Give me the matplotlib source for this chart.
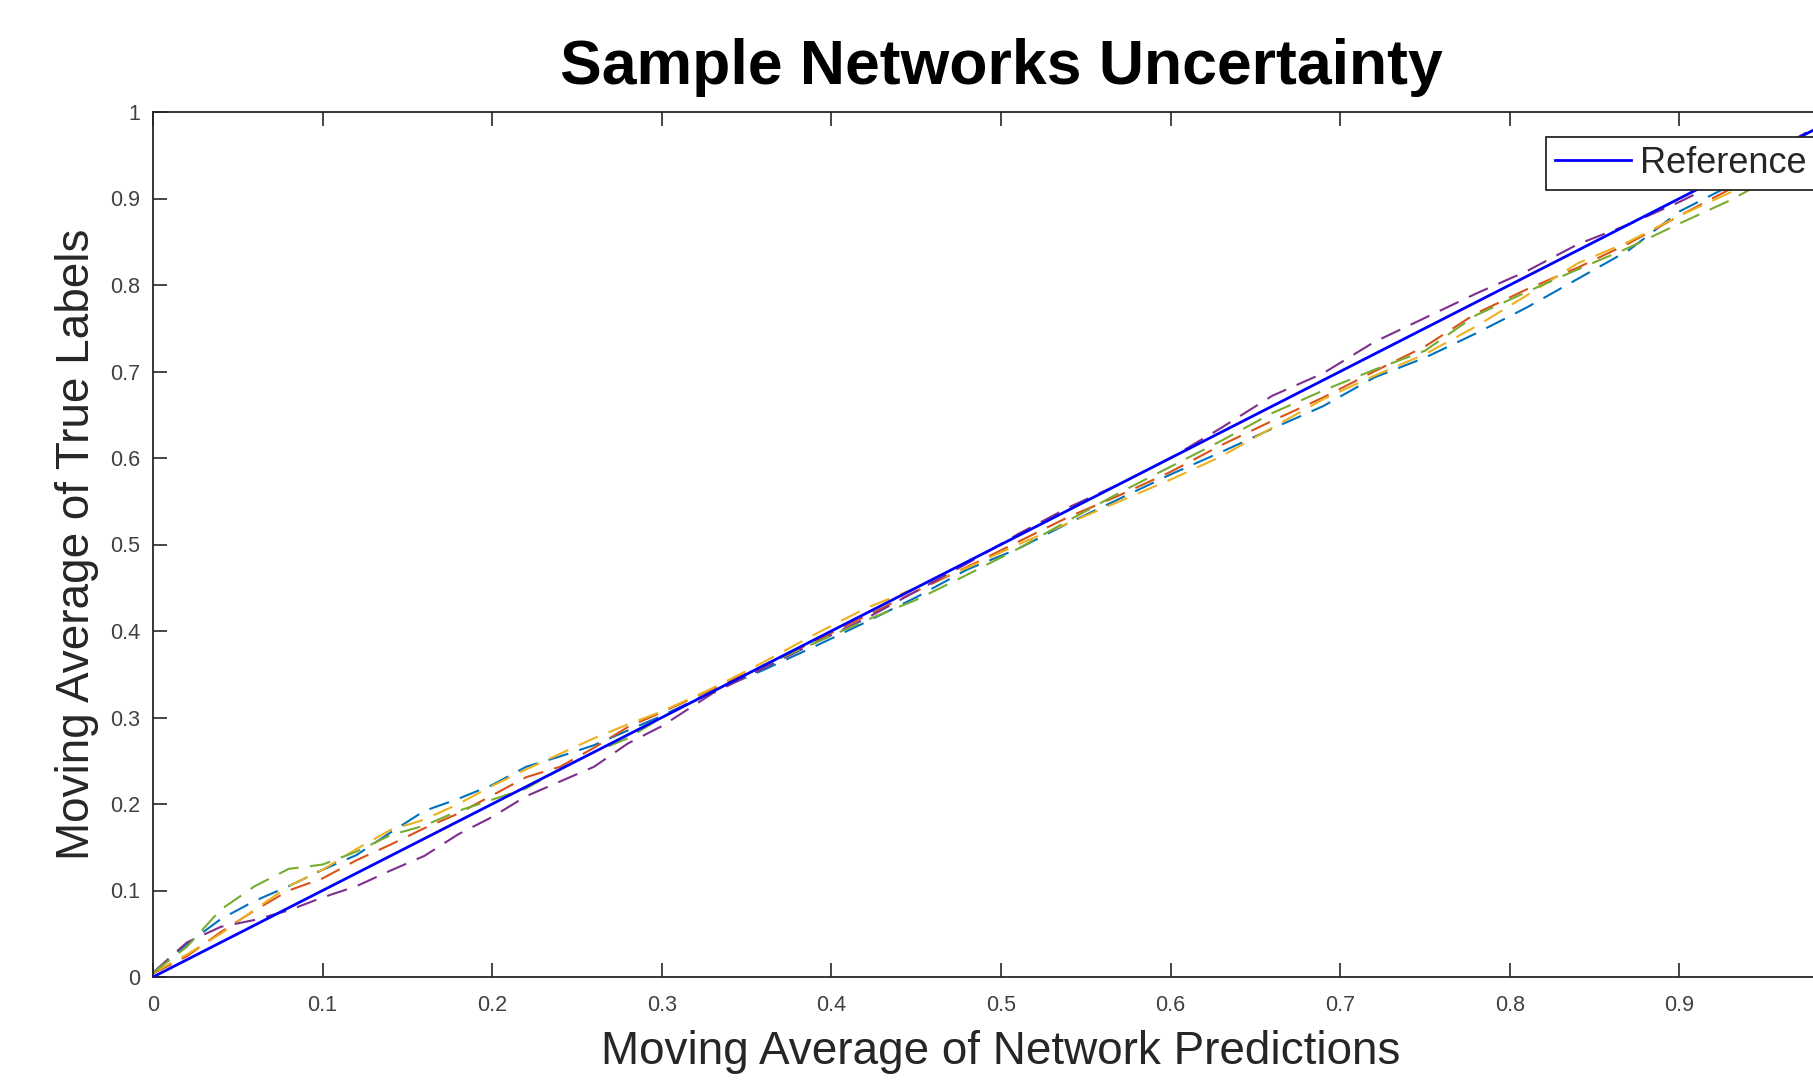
import matplotlib
matplotlib.use("Agg")
from matplotlib import pyplot as plt

# x positions (moving average of predictions) where curves were read
pred = [0, 0.02, 0.04, 0.06, 0.08, 0.10, 0.12, 0.14, 0.16, 0.18, 0.20, 0.22, 0.24,
        0.26, 0.28, 0.30, 0.33, 0.36, 0.39, 0.42, 0.45, 0.48, 0.51, 0.54, 0.57,
        0.60, 0.63, 0.66, 0.69, 0.72, 0.75, 0.78, 0.81, 0.84, 0.87, 0.90, 0.93,
        0.96, 0.99]

net1 = [0.005, 0.038, 0.067, 0.088, 0.105, 0.124, 0.141, 0.167, 0.192, 0.206, 0.222,
        0.243, 0.255, 0.268, 0.285, 0.302, 0.330, 0.355, 0.382, 0.410, 0.439, 0.471,
        0.495, 0.525, 0.553, 0.581, 0.607, 0.634, 0.660, 0.693, 0.716, 0.744, 0.774,
        0.807, 0.840, 0.885, 0.915, 0.945, 0.975]
net2 = [0.004, 0.024, 0.052, 0.077, 0.100, 0.114, 0.135, 0.153, 0.172, 0.189, 0.210,
        0.231, 0.243, 0.265, 0.289, 0.306, 0.333, 0.360, 0.388, 0.417, 0.446, 0.474,
        0.503, 0.532, 0.557, 0.584, 0.615, 0.643, 0.670, 0.700, 0.729, 0.767, 0.795,
        0.820, 0.848, 0.880, 0.911, 0.942, 0.972]
net3 = [0.005, 0.026, 0.050, 0.078, 0.105, 0.124, 0.148, 0.170, 0.182, 0.200, 0.221,
        0.240, 0.258, 0.276, 0.292, 0.307, 0.334, 0.364, 0.396, 0.426, 0.450, 0.473,
        0.500, 0.525, 0.550, 0.575, 0.602, 0.635, 0.668, 0.695, 0.720, 0.752, 0.788,
        0.825, 0.850, 0.880, 0.907, 0.940, 0.970]
net4 = [0.005, 0.040, 0.058, 0.066, 0.077, 0.092, 0.105, 0.123, 0.140, 0.165, 0.185,
        0.209, 0.226, 0.243, 0.270, 0.290, 0.328, 0.357, 0.386, 0.414, 0.446, 0.478,
        0.512, 0.543, 0.570, 0.600, 0.635, 0.672, 0.698, 0.734, 0.762, 0.790, 0.816,
        0.847, 0.870, 0.896, 0.925, 0.960, 0.993]
net5 = [0.005, 0.035, 0.078, 0.105, 0.125, 0.130, 0.145, 0.164, 0.175, 0.192, 0.205,
        0.218, 0.240, 0.260, 0.276, 0.300, 0.330, 0.360, 0.386, 0.412, 0.436, 0.465,
        0.495, 0.528, 0.560, 0.590, 0.620, 0.652, 0.678, 0.702, 0.724, 0.765, 0.792,
        0.818, 0.843, 0.871, 0.898, 0.930, 0.960]

ref_x = [0, 1]
ref_y = [0, 1]

# the x tick at 1 falls outside the exported image, so only 0..0.9 are labelled
xticks = [0, 0.1, 0.2, 0.3, 0.4, 0.5, 0.6, 0.7, 0.8, 0.9]
xtick_labels = ["0", "0.1", "0.2", "0.3", "0.4", "0.5", "0.6", "0.7", "0.8", "0.9"]
yticks = [0, 0.1, 0.2, 0.3, 0.4, 0.5, 0.6, 0.7, 0.8, 0.9, 1]
ytick_labels = ["0", "0.1", "0.2", "0.3", "0.4", "0.5", "0.6", "0.7", "0.8", "0.9", "1"]

plt.rcParams['font.family'] = ['Liberation Sans', 'DejaVu Sans']
dark = '#262626'
gray = '#404040'

W, H = 1813, 1080
fig = plt.figure(figsize=(W / 100, H / 100), dpi=100)
# axes runs past the right edge of the figure, as in the original export
ax = fig.add_axes([153 / W, (H - 977) / H, (1849 - 153) / W, (977 - 112) / H])

ref_line, = ax.plot(ref_x, ref_y, color=(0, 0, 1), lw=2.0, zorder=3)
colors = [(0, 0.447, 0.741), (0.85, 0.325, 0.098), (0.929, 0.694, 0.125),
          (0.494, 0.184, 0.556), (0.466, 0.674, 0.188)]
for ys, c in zip([net1, net2, net3, net4, net5], colors):
    ax.plot(pred, ys, color=c, lw=1.5, dashes=(10, 5.5), zorder=2)

ax.set_xlim(0, 1)
ax.set_ylim(0, 1)
ax.set_xticks(xticks)
ax.set_xticklabels(xtick_labels)
ax.set_yticks(yticks)
ax.set_yticklabels(ytick_labels)
ax.tick_params(direction='in', length=10, width=1.2, colors=dark, labelcolor=gray,
               labelsize=15.5, top=True, right=True)
ax.tick_params(axis='x', pad=13)
ax.tick_params(axis='y', pad=9)
for s in ax.spines.values():
    s.set_color(dark)
    s.set_linewidth(1.3)

ax.set_title('Sample Networks Uncertainty', fontsize=45, fontweight='bold', pad=20)
ax.set_xlabel('Moving Average of Network Predictions', fontsize=33, color=dark, labelpad=10)
ax.set_ylabel('Moving Average of True Labels', fontsize=33, color=dark, labelpad=8)

leg = ax.legend([ref_line], ['Reference'], loc='upper left',
                bbox_to_anchor=(1546 / W, 1 - 137 / H), bbox_transform=fig.transFigure,
                borderaxespad=0, fontsize=26, handlelength=2.1, handletextpad=0.25,
                borderpad=0.25, fancybox=False, framealpha=1)
leg.get_frame().set_edgecolor(dark)
leg.get_frame().set_linewidth(1.3)
for t in leg.get_texts():
    t.set_color(dark)

plt.savefig('out.png', dpi=100)
